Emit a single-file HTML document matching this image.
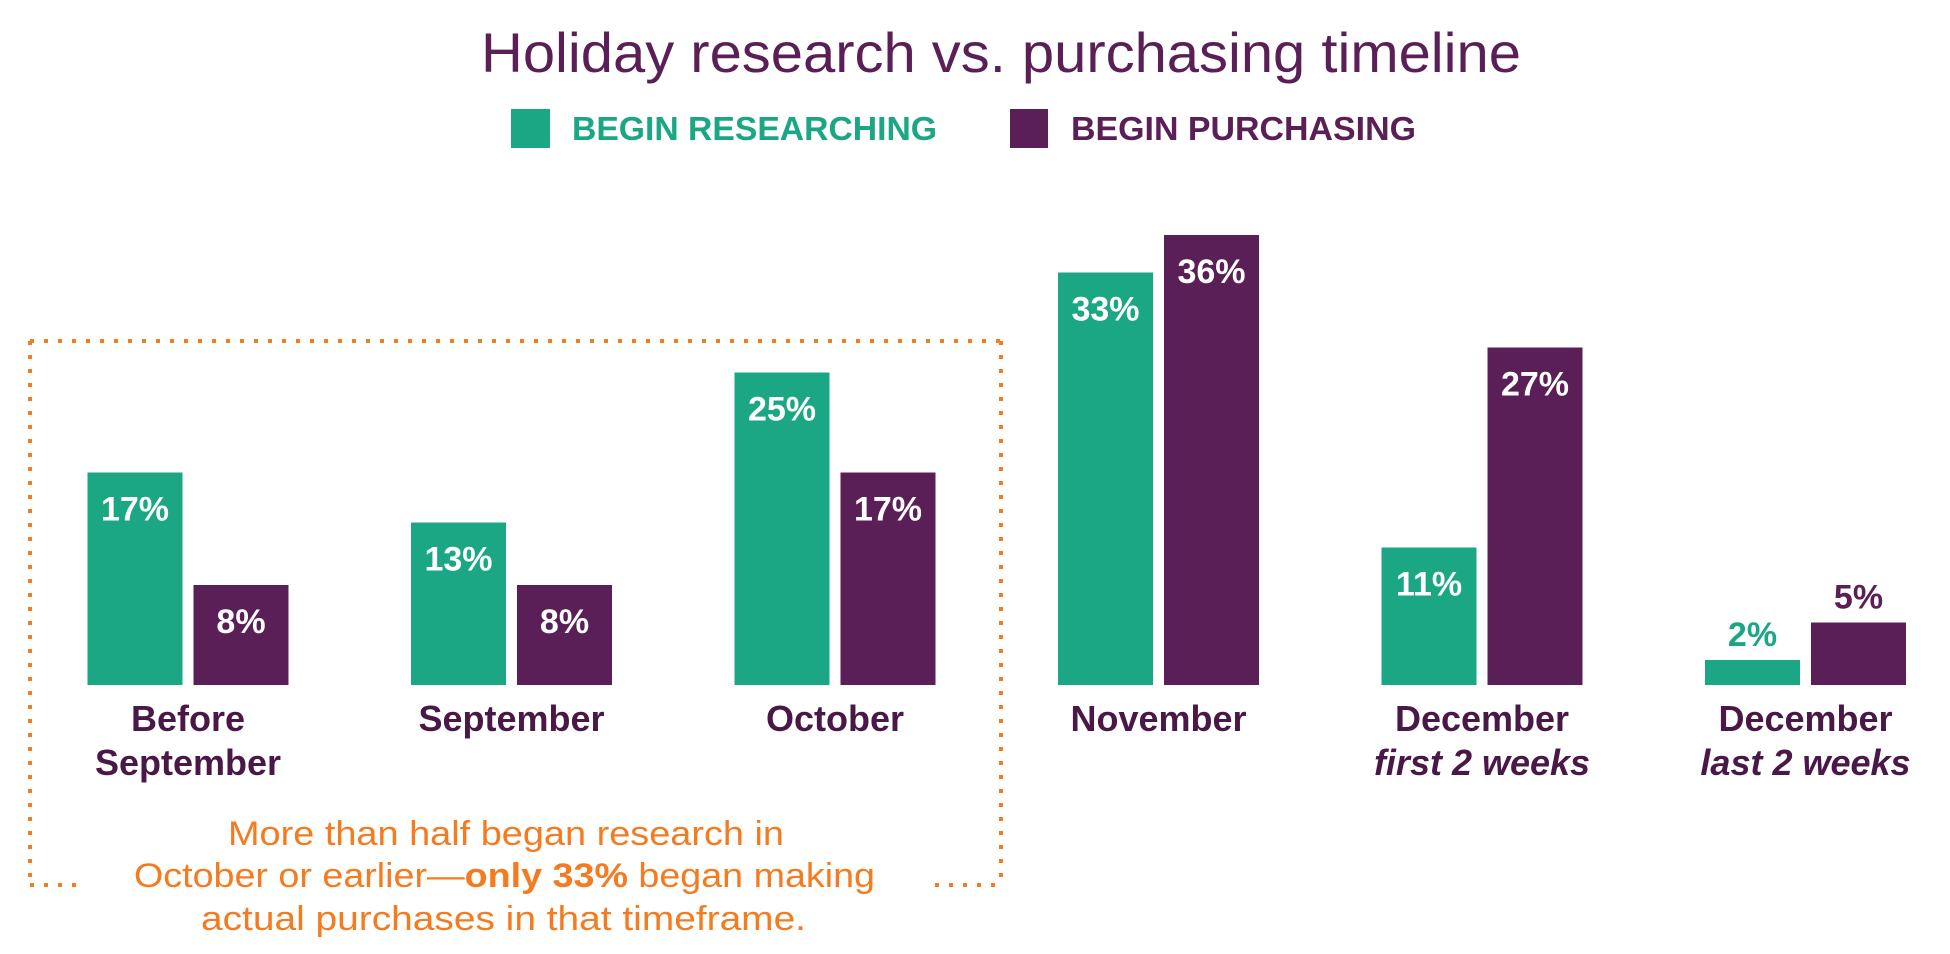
<!DOCTYPE html>
<html><head><meta charset="utf-8">
<style>
html,body{margin:0;padding:0;background:#fff;}
svg{display:block;}
text{font-family:"Liberation Sans Narrow","Liberation Sans",sans-serif;}
</style></head>
<body>
<svg id="chart" width="1950" height="954" viewBox="0 0 1950 954" xmlns="http://www.w3.org/2000/svg">
  <text x="481" y="72" textLength="1040" lengthAdjust="spacingAndGlyphs" font-size="56" fill="#5a1f56">Holiday research vs. purchasing timeline</text>
  <g>
    <rect x="511" y="109" width="39" height="39" fill="#1ba783"/>
    <text x="572" y="140" textLength="365" lengthAdjust="spacingAndGlyphs" font-size="33" font-weight="bold" fill="#1ba783">BEGIN RESEARCHING</text>
    <rect x="1010" y="109" width="38" height="39" fill="#5b1f57"/>
    <text x="1071" y="140" textLength="345" lengthAdjust="spacingAndGlyphs" font-size="33" font-weight="bold" fill="#5b1f57">BEGIN PURCHASING</text>
  </g>
  <g stroke="#f47b20" stroke-width="4" stroke-dasharray="4 10" fill="none">
    <line x1="30" y1="341" x2="1001" y2="341"/>
    <line x1="30" y1="341" x2="30" y2="885"/>
    <line x1="1001" y1="341" x2="1001" y2="885"/>
    <line x1="30" y1="885" x2="80" y2="885"/>
    <line x1="935" y1="885" x2="1001" y2="885"/>
  </g>
  <g font-size="34" fill="#f47b20" lengthAdjust="spacingAndGlyphs">
    <text x="228" y="845" textLength="556" lengthAdjust="spacingAndGlyphs">More than half began research in</text>
    <text x="134" y="887" textLength="741" lengthAdjust="spacingAndGlyphs">October or earlier—<tspan font-weight="bold">only 33%</tspan> began making</text>
    <text x="201" y="930" textLength="605" lengthAdjust="spacingAndGlyphs">actual purchases in that timeframe.</text>
  </g>
  <g id="bars"></g>
</svg>
<script>
const categories = ["Before September","September","October","November","December","December"];
const subLabels = ["September","","","","first 2 weeks","last 2 weeks"];
const research = [17,13,25,33,11,2];
const purchasing = [8,8,17,36,27,5];

const baseY = 685, pxPer = 12.5, x0 = 87.5, step = 323.5, bw = 95, gap = 106;
function yScale(v){ return baseY - v*pxPer; }
function xGroup(i){ return x0 + i*step; }
const NS = "http://www.w3.org/2000/svg";
const g = document.getElementById('bars');
function mk(tag, attrs, txt){
  const e = document.createElementNS(NS, tag);
  for (const k in attrs) e.setAttribute(k, attrs[k]);
  if (txt !== undefined) e.textContent = txt;
  g.appendChild(e);
  return e;
}
const series = [[research,"#1ba783","researching"],[purchasing,"#5b1f57","purchasing"]];
for (let i=0;i<categories.length;i++){
  series.forEach((s,j)=>{
    const v = s[0][i];
    const x = xGroup(i) + j*gap;
    const y = yScale(v);
    const r = mk('rect',{x:x,y:y,width:bw,height:baseY-y,fill:s[1]});
    
    
    const inside = (baseY-y) > 80;
    const t = mk('text',{x:x+bw/2,y:inside? y+48 : y-14,'text-anchor':'middle','font-size':34,'font-weight':'bold',fill: inside? '#fff' : s[1]}, v+'%');
    
    
  });
  const cx = xGroup(i) + (gap+bw)/2;
  const first = i===0 ? "Before" : categories[i];
  const c1 = mk('text',{x:cx,y:731,'text-anchor':'middle','font-size':36,'font-weight':'bold',fill:'#4a1846'}, first);
  
  
  if (subLabels[i]){
    const italic = i>=4;
    const c2 = mk('text',{x:cx,y:775,'text-anchor':'middle','font-size':36,'font-weight':'bold','font-style':italic?'italic':'normal',fill:'#4a1846'}, subLabels[i]);
    
    
  }
}
</script>
</body></html>
